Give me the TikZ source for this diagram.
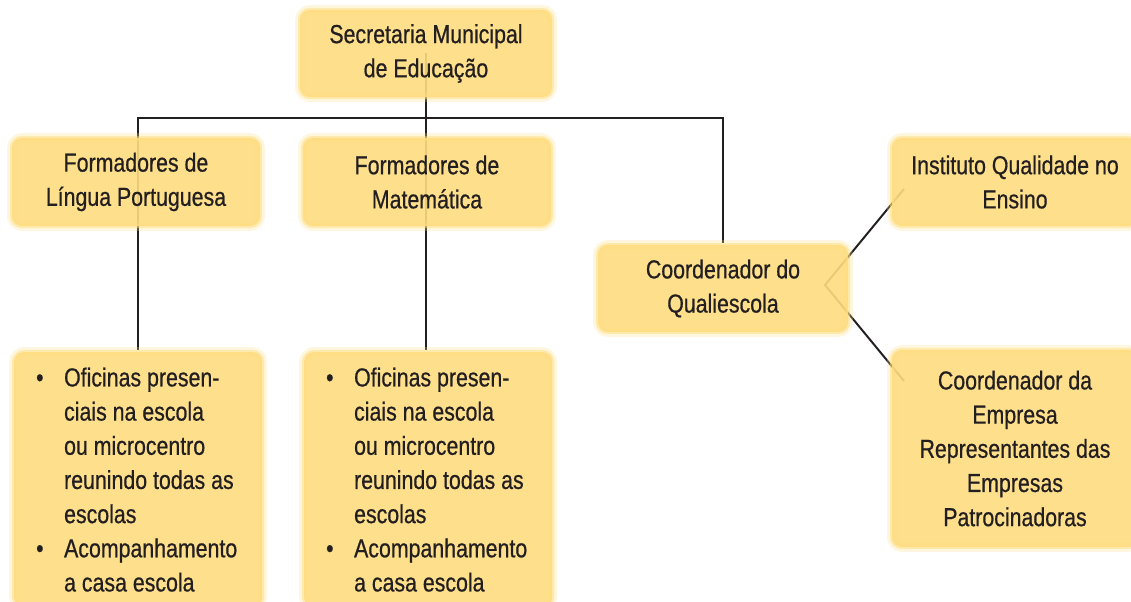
\documentclass[tikz,border=0pt]{standalone}
\usepackage{fontspec}
\setmainfont{Liberation Sans}[FakeStretch=0.82, FakeBold=0.6]
\usepackage{xcolor}
\usetikzlibrary{backgrounds}

\definecolor{boxfill}{HTML}{FEDC80}
\definecolor{linecol}{HTML}{231F20}

\newcommand{\itm}{\hspace*{0.25cm}\makebox[0.7cm][l]{\textbullet}}
\newcommand{\ind}{\hspace*{0.95cm}}
\newcommand{\listtext}[1]{\parbox[t]{5.6cm}{\raggedright #1}}

\tikzset{
  box/.style={fill=boxfill, fill opacity=0.9, text opacity=1, text=linecol,
    draw=boxfill, draw opacity=0.5, line width=3pt, rounded corners=7pt,
    preaction={draw=boxfill, draw opacity=0.25, line width=7pt},
    align=center, inner sep=0pt, minimum width=6.2cm, minimum height=2.2cm},
  listbox/.style={box, anchor=north west, minimum height=0pt,
    inner xsep=0.3cm, inner ysep=11pt},
  conn/.style={draw=linecol, line width=1.4pt}
}

\begin{document}
\begin{tikzpicture}[x=0.025cm, y=-0.025cm, font=\fontsize{18.5}{24.3}\selectfont]
    \useasboundingbox (0,0) rectangle (1131,602);
    \clip (0,0) rectangle (1131,602);
    \node[box, minimum width=6.3cm, minimum height=2.175cm] (sme) at (426,53.5) {Secretaria Municipal\\de Educação};
    \node[box] (flp) at (136,182) {Formadores de\\Língua Portuguesa};
    \node[box] (fmat) at (427,182) {Formadores de\\Matemática};
    \node[box, minimum width=6.25cm, minimum height=2.175cm] (cq) at (723,288.5) {Coordenador do\\Qualiescola};
    \node[box, minimum width=6.15cm] (iqe) at (1015,182) {Instituto Qualidade no\\Ensino};
    \node[box, minimum width=6.15cm, minimum height=4.925cm] (emp) at (1015,448.5)
      {Coordenador da\\Empresa\\Representantes das\\Empresas\\Patrocinadoras};
    \node[listbox] (olp) at (12,350)
      {\listtext{\itm Oficinas presen-\\\ind ciais na escola\\\ind ou microcentro\\\ind reunindo todas as\\\ind escolas\\\itm Acompanhamento\\\ind a casa escola}};
    \node[listbox] (omat) at (302,350)
      {\listtext{\itm Oficinas presen-\\\ind ciais na escola\\\ind ou microcentro\\\ind reunindo todas as\\\ind escolas\\\itm Acompanhamento\\\ind a casa escola}};
    % connectors behind the boxes
    \coordinate (bus) at (426,118);
    \coordinate (fork) at (825,285);
    \coordinate (iqe end) at (904,189);
    \coordinate (emp end) at (904,381);
    \begin{pgfonlayer}{background}
      \draw[conn] (sme.center) -- (omat.north -| sme.center);
      \draw[conn] (olp.north) |- (bus) -| (cq.north);
      \draw[conn] (iqe end) -- (fork) -- (emp end);
    \end{pgfonlayer}
\end{tikzpicture}
\end{document}
